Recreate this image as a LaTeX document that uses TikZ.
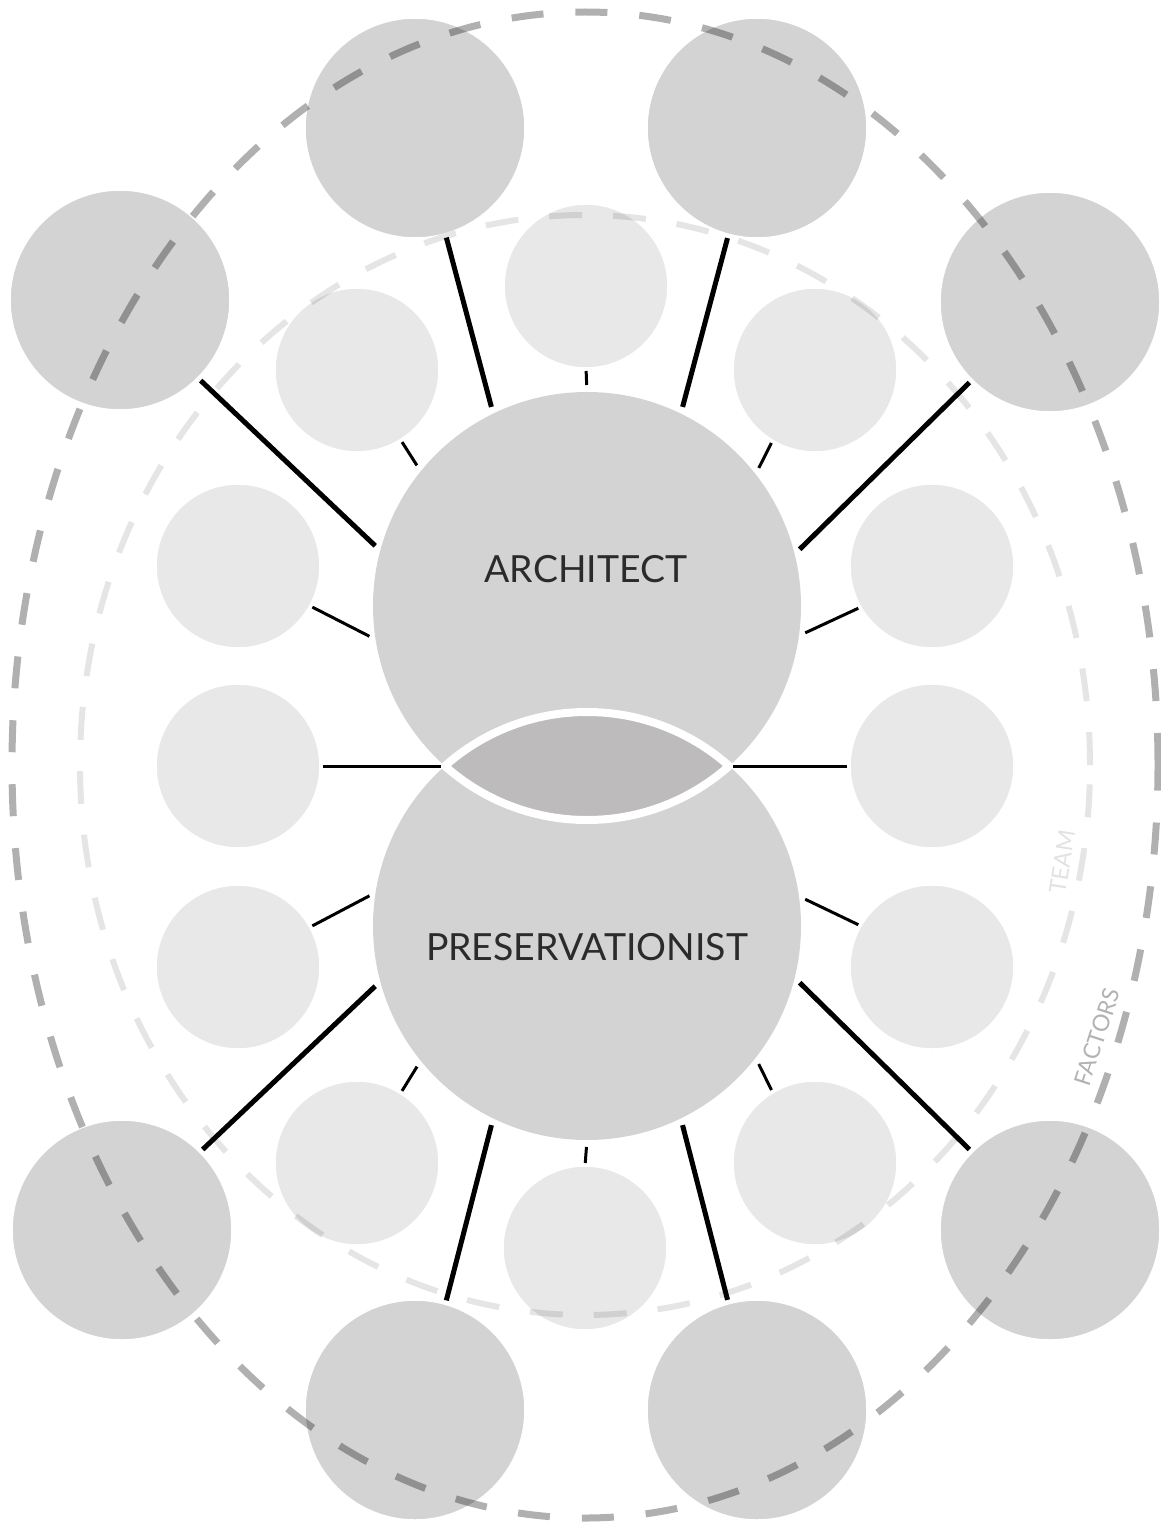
\documentclass[tikz,border=0pt]{standalone}
\usepackage{fontspec}
\setmainfont{Lato}
\definecolor{factorgray}{HTML}{D3D3D3}
\definecolor{membergray}{HTML}{E8E8E8}
\definecolor{rolegray}{HTML}{D3D3D3}
\definecolor{lensgray}{HTML}{BDBBBC}
\definecolor{labelink}{HTML}{2B2B2B}
\definecolor{teamink}{HTML}{E2E2E2}
\definecolor{factorink}{HTML}{B2B2B2}
\begin{document}
\begin{tikzpicture}[x=0.5pt,y=-0.5pt,
  factor/.style={circle, fill=factorgray, draw=white, line width=0.75pt,
                 minimum size=110pt, inner sep=0pt, outer sep=0pt},
  member/.style={circle, fill=membergray, draw=white, line width=0.75pt,
                 minimum size=82pt, inner sep=0pt, outer sep=0pt},
  role/.style={circle, fill=rolegray, minimum size=214pt, inner sep=0pt, outer sep=0pt},
  strong/.style={line width=2.5pt, shorten <=2pt, shorten >=3.5pt},
  weak/.style={line width=1.5pt, shorten <=1.5pt, shorten >=3.5pt},
  rolelabel/.style={text=labelink, font=\fontsize{18.7}{21}\selectfont, anchor=base, inner sep=0pt},
  ringlabel/.style={font=\fontsize{11.5}{13}\selectfont, inner sep=0pt}]

\useasboundingbox (0,0) rectangle (1161,1525);

% outer ring of factors
\node[factor] (F1) at (415,128) {};
\node[factor] (F2) at (757,128) {};
\node[factor] (F3) at (120,300) {};
\node[factor] (F4) at (1050,302) {};
\node[factor] (F5) at (122,1230) {};
\node[factor] (F6) at (1050,1230) {};
\node[factor] (F7) at (415,1410) {};
\node[factor] (F8) at (757,1410) {};

% inner ring of team members
\node[member] (S1)  at (586,286) {};
\node[member] (S2)  at (357,370) {};
\node[member] (S3)  at (815,370) {};
\node[member] (S4)  at (238,566) {};
\node[member] (S5)  at (932,566) {};
\node[member] (S6)  at (238,766) {};
\node[member] (S7)  at (932,766) {};
\node[member] (S8)  at (238,967) {};
\node[member] (S9)  at (932,967) {};
\node[member] (S10) at (357,1163) {};
\node[member] (S11) at (815,1163) {};
\node[member] (S12) at (585,1248) {};

% the two central roles
\node[role] (A) at (587,606) {};
\node[role] (P) at (587,926) {};

% shared overlap of the two roles
\begin{scope}
  \clip (A.center) circle (107pt);
  \fill[lensgray] (P.center) circle (107pt);
  \draw[white, line width=4pt] (P.center) circle (107pt);
\end{scope}
\begin{scope}
  \clip (P.center) circle (107pt);
  \draw[white, line width=4pt] (A.center) circle (107pt);
\end{scope}
\coordinate (lensL) at (444.9,766);
\coordinate (lensR) at (729.1,766);

% dashed rings
\draw[black, opacity=0.1, line width=3pt, dash pattern=on 16.5pt off 15.5pt]
  (585,765) ellipse [x radius=252.5pt, y radius=275pt];
\draw[black, opacity=0.31, line width=3.5pt, dash pattern=on 16pt off 16pt]
  (585,765) ellipse [x radius=286.5pt, y radius=376.5pt];

% factor connectors
\draw[strong] (F1.-74.3)  -- (A.116);
\draw[strong] (F2.-105.7) -- (A.64);
\draw[strong] (F3.-45)    -- (A.165.9);
\draw[strong] (F4.-135)   -- (A.14.4);
\draw[strong] (F5.45)     -- (P.-165.9);
\draw[strong] (F6.135)    -- (P.-14.4);
\draw[strong] (F7.74.3)   -- (P.-116);
\draw[strong] (F8.105.7)  -- (P.-64);

% team connectors
\draw[weak] (S1.-90)     -- (A.90);
\draw[weak] (S2.-58.9)   -- (A.141.4);
\draw[weak] (S3.-121.1)  -- (A.38.6);
\draw[weak] (S4.-29.2)   -- (A.-171.1);
\draw[weak] (S5.-150.8)  -- (A.-8.9);
\draw[weak, shorten >=2pt] (S6.east) -- (lensL);
\draw[weak, shorten >=2pt] (S7.west) -- (lensR);
\draw[weak] (S8.29.2)    -- (P.171.1);
\draw[weak] (S9.150.8)   -- (P.8.9);
\draw[weak] (S10.58.9)   -- (P.-141.4);
\draw[weak] (S11.121.1)  -- (P.-38.6);
\draw[weak] (S12.90)     -- (P.-90);

% labels
\node[rolelabel] (archtext) at (586,582) {ARCHITECT};
\node[rolelabel] (prestext) at (587,960) {PRESERVATIONIST};
\node[ringlabel, text=teamink, rotate=81] (teamtext) at (1062,862) {TEAM};
\node[ringlabel, text=factorink, rotate=72] (factortext) at (1097,1037) {FACTORS};
\end{tikzpicture}
\end{document}
